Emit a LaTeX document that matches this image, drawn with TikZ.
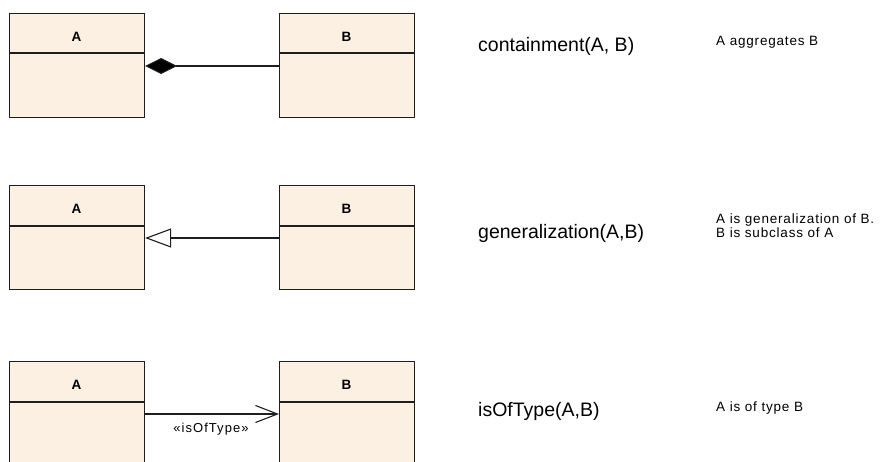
\documentclass[tikz,border=0pt]{standalone}
\usepackage{fontspec}
\setmainfont{Liberation Sans}
\newfontfamily\spacedfont[LetterSpace=6]{Liberation Sans}
\newfontfamily\stereofont[LetterSpace=8]{Liberation Sans}
\usetikzlibrary{arrows.meta,calc}
\definecolor{classfill}{RGB}{251,240,226}
\definecolor{lineclr}{RGB}{30,30,30}
\tikzset{
  classbox/.style={draw=lineclr, line width=1.1pt, fill=classfill, rectangle,
    minimum width=135pt, minimum height=104pt, inner sep=0pt, anchor=north west},
  classname/.style={font=\bfseries\fontsize{13.5}{15}\selectfont, inner sep=0pt, anchor=base},
  conn/.style={draw=lineclr, line width=1.1pt},
  bigtext/.style={font=\fontsize{19.5}{23}\selectfont, inner sep=0pt, anchor=base west},
  smalltext/.style={font=\spacedfont\fontsize{13.5}{11}\selectfont, inner sep=0pt, anchor=base west, align=left},
  stereo/.style={font=\stereofont\fontsize{13}{15}\selectfont, inner sep=0pt, anchor=base}
}
\begin{document}
\begin{tikzpicture}[x=1pt,y=-1pt]
\useasboundingbox (0,0) rectangle (888,461);
\clip (0,0) rectangle (888,461);
% row 1
\node[classbox] (a1) at (9,13) {};
\node[classbox] (b1) at (279,13) {};
\draw[conn] ($(a1.north west)+(0,40)$) -- ($(a1.north east)+(0,40)$);
\draw[conn] ($(b1.north west)+(0,40)$) -- ($(b1.north east)+(0,40)$);
\node[classname] (la1) at (76.5,41) {A};
\node[classname] (lb1) at (346.5,41) {B};
\coordinate (a1c) at ($(a1.north east)+(0,53)$);
\coordinate (b1c) at ($(b1.north west)+(0,53)$);
\draw[conn, {Diamond[length=32pt,width=16pt,fill=black]}-] (a1c) -- (b1c);
% row 2
\node[classbox] (a2) at (9,185) {};
\node[classbox] (b2) at (279,185) {};
\draw[conn] ($(a2.north west)+(0,41)$) -- ($(a2.north east)+(0,41)$);
\draw[conn] ($(b2.north west)+(0,41)$) -- ($(b2.north east)+(0,41)$);
\node[classname] (la2) at (76.5,213.5) {A};
\node[classname] (lb2) at (346.5,213.5) {B};
\coordinate (a2c) at ($(a2.north east)+(0,53)$);
\coordinate (b2c) at ($(b2.north west)+(0,53)$);
\draw[conn, {Triangle[open,length=26pt,width=19pt,fill=white]}-] (a2c) -- (b2c);
% row 3
\node[classbox] (a3) at (9,361) {};
\node[classbox] (b3) at (279,361) {};
\draw[conn] ($(a3.north west)+(0,41)$) -- ($(a3.north east)+(0,41)$);
\draw[conn] ($(b3.north west)+(0,41)$) -- ($(b3.north east)+(0,41)$);
\node[classname] (la3) at (76.5,389) {A};
\node[classname] (lb3) at (346.5,389) {B};
\coordinate (a3c) at ($(a3.north east)+(0,53)$);
\coordinate (b3c) at ($(b3.north west)+(0,53)$);
\draw[conn, -{Straight Barb[length=22pt,width=17pt]}] (a3c) -- (b3c);
\node[stereo] (st) at (211,432) {«isOfType»};
% texts
\node[bigtext] (t1) at (478,51) {containment(A, B)};
\node[smalltext] (d1) at (716,45) {A aggregates B};
\node[bigtext] (t2) at (478,238) {generalization(A,B)};
\node[smalltext] (d2) at (716,237) {A is generalization of B.\\B is subclass of A};
\node[bigtext] (t3) at (478,416) {isOfType(A,B)};
\node[smalltext] (d3) at (716,411) {A is of type B};
\end{tikzpicture}
\end{document}
